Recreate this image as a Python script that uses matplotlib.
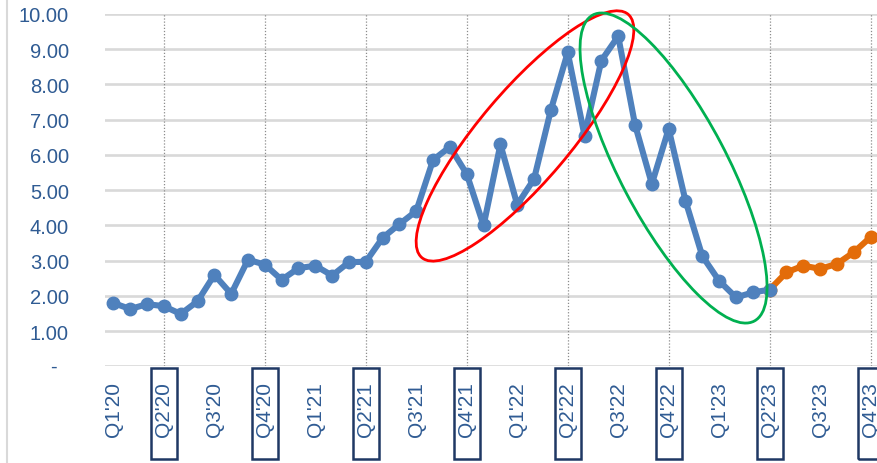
import matplotlib
matplotlib.use('Agg')
import matplotlib.pyplot as plt
from matplotlib.patches import Ellipse, Rectangle
from matplotlib.lines import Line2D
from matplotlib.transforms import ScaledTranslation, blended_transform_factory

# Monthly values, Jan 2020 onward
actual = [1.80, 1.63, 1.77, 1.71, 1.49, 1.85, 2.60, 2.06, 3.03, 2.89,
          2.46, 2.79, 2.86, 2.58, 2.96, 2.97, 3.65, 4.04, 4.41, 5.86,
          6.23, 5.46, 4.00, 6.30, 4.59, 5.32, 7.28, 8.91, 6.55, 8.68,
          9.37, 6.86, 5.18, 6.74, 4.70, 3.13, 2.43, 1.96, 2.10, 2.18]
forecast = [2.67, 2.86, 2.77, 2.91, 3.24, 3.67]

quarters = ["Q1'20", "Q2'20", "Q3'20", "Q4'20", "Q1'21", "Q2'21", "Q3'21", "Q4'21",
            "Q1'22", "Q2'22", "Q3'22", "Q4'22", "Q1'23", "Q2'23", "Q3'23", "Q4'23"]
boxed = ["Q2'20", "Q4'20", "Q2'21", "Q4'21", "Q2'22", "Q4'22", "Q2'23", "Q4'23"]

# highlighted stretches: (centre month, centre value, width px, height px, angle, colour)
rally = (24.46, 6.54, 319, 91, 49.7, '#FF0000')
selloff = (33.29, 5.63, 346, 107, -62.2, '#00B050')

BLUE = '#4F81BD'
ORANGE = '#E36C09'
TEXT = '#2F5B93'
GRID = '#D9D9D9'
NAVY = '#1F3864'

plt.rcParams['font.family'] = ['Liberation Sans', 'DejaVu Sans']

fig = plt.figure(figsize=(8.78, 4.64), dpi=100)
ax = fig.add_axes([105 / 878, 0.208, 774 / 878, 0.7597])

n_actual = len(actual)
x_actual = list(range(n_actual))
x_forecast = list(range(n_actual - 1, n_actual + len(forecast)))
y_forecast = [actual[-1]] + forecast

ax.plot(x_forecast, y_forecast, color=ORANGE, lw=4.4, marker='o', ms=9,
        solid_joinstyle='round', zorder=3)
ax.plot(x_actual, actual, color=BLUE, lw=4.4, marker='o', ms=9,
        solid_joinstyle='round', zorder=4)

n_total = n_actual + len(forecast)
ax.set_xlim(-0.5, n_total - 0.5)
ax.set_ylim(0, 10)

for s in ax.spines.values():
    s.set_visible(False)

ax.set_yticks(range(0, 11))
ax.set_yticklabels([''] + ['%.2f' % v for v in range(1, 11)])
ax.yaxis.grid(True, color=GRID, lw=1.9, zorder=0)
ax.set_axisbelow(True)
ax.tick_params(axis='y', length=0, pad=26, labelsize=14.5, labelcolor=TEXT)
ax.text(-0.062, 0, '-', transform=ax.get_yaxis_transform(), ha='right',
        va='center', fontsize=14.5, color=TEXT)

qx = list(range(0, n_total, 3))
ax.set_xticks(qx)
ax.set_xticklabels(quarters, rotation=90)
ax.tick_params(axis='x', length=0, pad=10.5, labelsize=15, labelcolor=TEXT)

# dotted half-year markers and label boxes
box_tr = blended_transform_factory(ax.transData, ax.transAxes)
for pos, q in zip(qx, quarters):
    if q in boxed:
        ax.axvline(pos, color='#8C8C8C', lw=0.9, ls=(0, (1, 1.5)), zorder=1)
        ax.add_patch(Rectangle((pos - 0.77, -0.262), 1.54, 0.258, transform=box_tr,
                               fill=False, ec=NAVY, lw=1.8, clip_on=False))

for cx, cy, w, h, ang, col in (rally, selloff):
    ell = Ellipse((0, 0), w / 100, h / 100, angle=ang, fill=False, ec=col, lw=2,
                  transform=fig.dpi_scale_trans + ScaledTranslation(cx, cy, ax.transData),
                  clip_on=False, zorder=6)
    ax.add_patch(ell)

# chart-area border on the left
fig.add_artist(Line2D([7 / 878, 7 / 878], [0, 1], color=GRID, lw=1.5,
                      transform=fig.transFigure))

fig.savefig('out.png', dpi=100)
